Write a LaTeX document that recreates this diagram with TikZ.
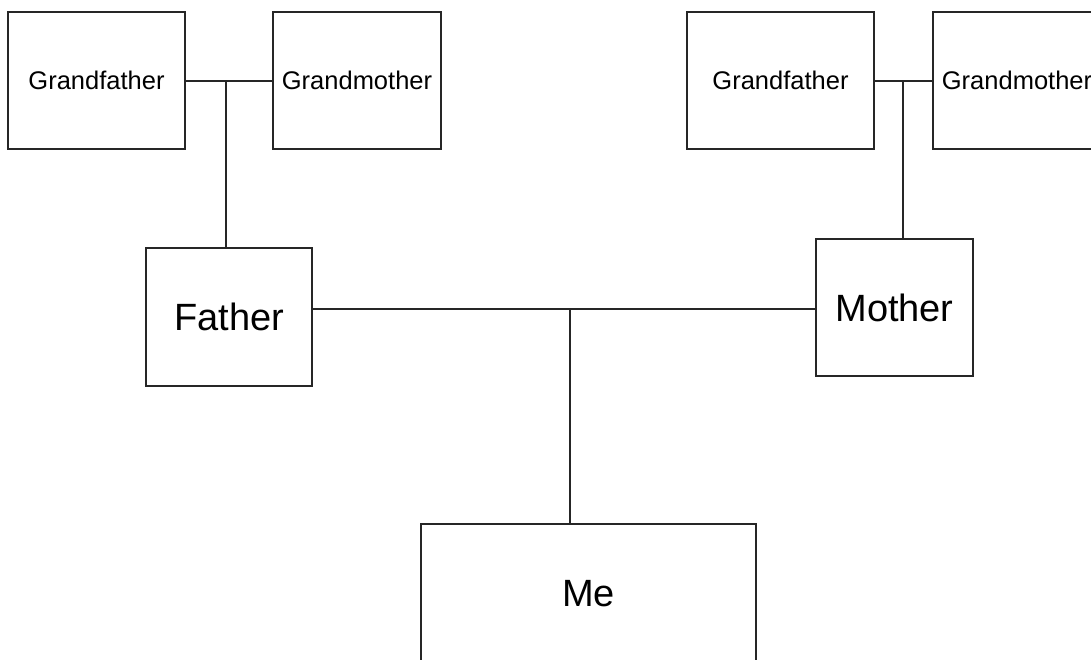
\documentclass[tikz,border=0pt]{standalone}
\usepackage{fontspec}
\setmainfont{Liberation Sans}
\usepackage{tikz}
\usetikzlibrary{calc,positioning}

\tikzset{
    person/.style={draw=black!85, line width=1.4pt, inner sep=0pt, align=center},
    elder/.style={person, font=\fontsize{25.5}{30}\selectfont},
    parent/.style={person, font=\fontsize{38}{44}\selectfont},
    link/.style={draw=black!85, line width=1.4pt}
}

\begin{document}
\begin{tikzpicture}[x=1pt, y=-1pt]
    \useasboundingbox (0,0) rectangle (1091,659);
    \clip (0,0) rectangle (1091,659);

    % grandparents
    \node [elder, minimum width=177pt, minimum height=137pt] (grandpa_left) at (96.5,80.5) {Grandfather};
    \node [elder, minimum width=168pt, minimum height=137pt] (grandma_left) at (357,80.5) {Grandmother};
    \node [elder, minimum width=187pt, minimum height=137pt] (grandpa_right) at (780.5,80.5) {Grandfather};
    \node [elder, minimum width=168pt, minimum height=137pt] (grandma_right) at (1017,80.5) {Grandmother};

    % parents and me
    \node [parent, minimum width=166pt, minimum height=138pt] (father) at (229,317) {Father};
    \node [parent, minimum width=157pt, minimum height=137pt] (mother) at (894.5,307.5) {Mother};
    \node [parent, minimum width=335pt, minimum height=140pt] (me) at (588.5,594) {Me};

    \coordinate (left_join) at (226,81);
    \coordinate (right_join) at (903,81);
    \coordinate (parents_join) at (570,309);

    \draw[link] (left_join -| grandpa_left.east) -- (left_join -| grandma_left.west);
    \draw[link] (left_join) -- (left_join |- father.north);
    \draw[link] (right_join -| grandpa_right.east) -- (right_join -| grandma_right.west);
    \draw[link] (right_join) -- (right_join |- mother.north);
    \draw[link] (parents_join -| father.east) -- (parents_join -| mother.west);
    \draw[link] (parents_join) -- (parents_join |- me.north);

\end{tikzpicture}
\end{document}
